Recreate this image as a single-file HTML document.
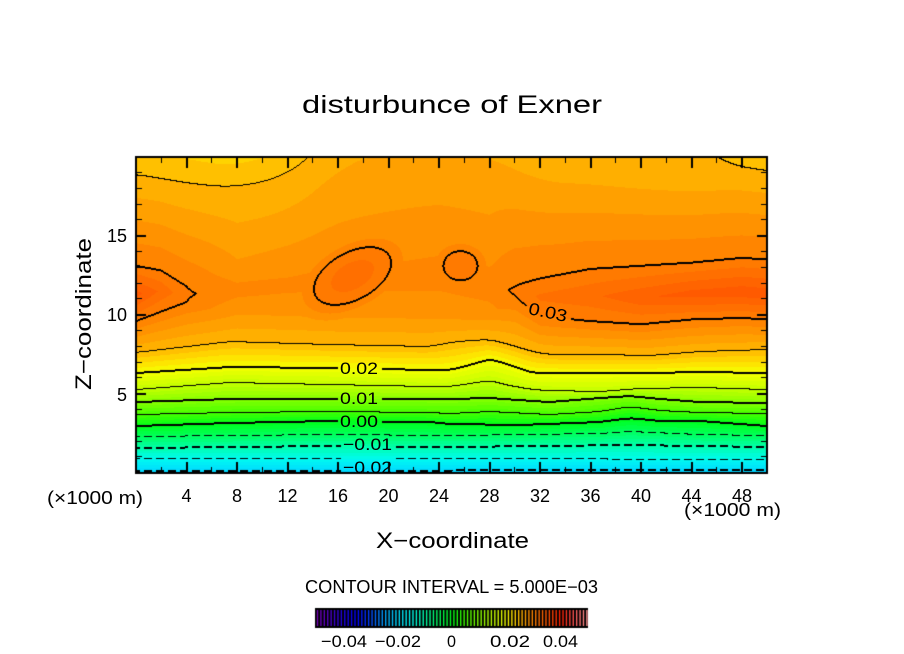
<!DOCTYPE html>
<html><head><meta charset="utf-8">
<style>
html,body{margin:0;padding:0;background:#fff;}
#wrap{position:relative;width:904px;height:654px;overflow:hidden;background:#fff;}
canvas,svg{position:absolute;left:0;top:0;}
</style></head><body>
<div id="wrap">
<canvas id="c" width="904" height="654"></canvas>
<svg width="904" height="654" font-family="'Liberation Sans', sans-serif" fill="#000">
<text x="302" y="113" font-size="25" textLength="300" lengthAdjust="spacingAndGlyphs">disturbunce of Exner</text>
<text x="376" y="548" font-size="22" textLength="153" lengthAdjust="spacingAndGlyphs">X−coordinate</text>
<text transform="translate(91,390) rotate(-90)" font-size="22" textLength="152" lengthAdjust="spacingAndGlyphs">Z−coordinate</text>
<g font-size="18" text-anchor="end">
<text x="127" y="242">15</text>
<text x="127" y="321">10</text>
<text x="127" y="401">5</text>
</g>
<g font-size="18" text-anchor="middle">
<text x="186.5" y="502">4</text>
<text x="237" y="502">8</text>
<text x="287.5" y="502">12</text>
<text x="338" y="502">16</text>
<text x="388.5" y="502">20</text>
<text x="439" y="502">24</text>
<text x="489.5" y="502">28</text>
<text x="540" y="502">32</text>
<text x="590.5" y="502">36</text>
<text x="641" y="502">40</text>
<text x="691.5" y="502">44</text>
<text x="742" y="502">48</text>
</g>
<text x="47" y="504" font-size="18" textLength="96" lengthAdjust="spacingAndGlyphs">(×1000 m)</text>
<text x="684" y="516" font-size="18" textLength="97" lengthAdjust="spacingAndGlyphs">(×1000 m)</text>
<text x="305" y="593" font-size="18" textLength="293" lengthAdjust="spacingAndGlyphs">CONTOUR INTERVAL = 5.000E−03</text>
<g font-size="17">
<text x="321" y="647" textLength="46" lengthAdjust="spacingAndGlyphs">−0.04</text>
<text x="375" y="647" textLength="46" lengthAdjust="spacingAndGlyphs">−0.02</text>
<text x="447" y="647" textLength="9" lengthAdjust="spacingAndGlyphs">0</text>
<text x="490" y="647" textLength="40" lengthAdjust="spacingAndGlyphs">0.02</text>
<text x="543" y="647" textLength="35" lengthAdjust="spacingAndGlyphs">0.04</text>
</g>
<g font-size="17">
<text x="340" y="374" textLength="38" lengthAdjust="spacingAndGlyphs">0.02</text>
<text x="340" y="404" textLength="38" lengthAdjust="spacingAndGlyphs">0.01</text>
<text x="340" y="427" textLength="38" lengthAdjust="spacingAndGlyphs">0.00</text>
<text x="343" y="450" textLength="49" lengthAdjust="spacingAndGlyphs">−0.01</text>
<text x="343" y="473" textLength="49" lengthAdjust="spacingAndGlyphs">−0.02</text>
<text transform="translate(548,312) rotate(12)" text-anchor="middle" dy="6" textLength="39" lengthAdjust="spacingAndGlyphs">0.03</text>
</g>
</svg>
</div>
<script>
(function(){
const cv=document.getElementById('c'), ctx=cv.getContext('2d');
const CX=136, CY=157, CW=632, CH=316;
const XL=136, XR=767.3, YT=156.7, YB=472.8;
const SX=(XR-XL)/50, SZ=(YB-YT)/20;

const lower = [
 [-0.025, [[136,482],[767,482]]],
 [-0.02, [[136,471],[767,470]]],
 [-0.015, [[136,459],[450,459],[767,460]]],
 [-0.01, [[136,448],[330,446],[450,447],[630,445],[767,447]]],
 [-0.005, [[136,437],[330,435],[450,436],[600,434],[630,432],[700,435],[767,436]]],
 [0, [[136,426],[230,423],[330,421],[430,422],[450,424],[520,425],[600,422],[630,418],[660,421],[700,421],[767,426]]],
 [0.005, [[136,415],[230,413],[330,412],[430,413],[450,414],[490,412],[550,415],[600,412],[630,407],[660,411],[700,413],[767,414]]],
 [0.01, [[136,402],[230,399],[330,399],[430,399],[450,399],[490,398],[533,401],[550,402],[600,398],[630,396],[660,399],[700,402],[767,403]]],
 [0.015, [[136,390],[230,383],[330,385],[430,387],[450,387],[470,384],[490,381],[510,386],[533,390],[550,391],[600,392],[640,389],[700,388],[767,390]]],
 [0.02, [[136,373],[230,367],[330,368],[430,370],[450,370],[470,365],[490,359],[510,365],[533,373],[550,373],[600,373],[650,373],[700,372],[767,373]]],
 [0.025, [[136,353],[230,342],[330,345],[430,347],[450,343],[470,341],[490,340],[510,345],[533,352],[550,355],[600,355],[650,356],[700,352],[767,350]]]
];
const upper = [
 [0,  9.6,.0300, 11.3,.0343, 13.1,.0300, 18.9,.0250, 20,.0243],
 [2, 10.2,.0300, 11.5,.0322, 12.8,.0300, 18.6,.0250, 20,.0240],
 [4, 10.8,.0300, 11.3,.0302, 11.8,.0300, 18.3,.0250, 20,.0236],
 [8, 10.0,.0275, 11.5,.0292, 13.5,.0275, 18.0,.0250, 20,.0232],
 [12,10.0,.0276, 11.8,.0291, 14.0,.0277, 18.8,.0250, 20,.0242],
 [16,10.0,.0278, 12.2,.0292, 14.5,.0280, 19.5,.0262, 20,.0261],
 [20,10.0,.0278, 12.2,.0292, 14.5,.0282, 19.5,.0265, 20,.0263],
 [24,10.0,.0279, 12.5,.0293, 14.5,.0284, 19.5,.0266, 20,.0264],
 [28,10.0,.0282, 11.8,.0294, 13.5,.0285, 19.5,.0264, 20,.0262],
 [30,11.0,.02985,11.5,.0302, 12.0,.02985,19.5,.0262, 20,.0260],
 [32, 9.9,.0300, 11.1,.0315, 12.3,.0300, 19.3,.0257, 20,.0256],
 [36, 9.6,.0300, 11.2,.0322, 12.9,.0300, 18.9,.0258, 20,.0256],
 [40, 9.4,.0300, 11.1,.0335, 13.1,.0300, 18.8,.0256, 20,.0254],
 [44, 9.7,.0300, 11.3,.0343, 13.3,.0300, 18.8,.0254, 20,.0252],
 [48, 9.8,.0300, 11.4,.0346, 13.6,.0300, 19.4,.0250, 20,.0248],
 [50, 9.7,.0300, 11.3,.0345, 13.5,.0300, 19.0,.0250, 20,.0245]
];
const cm = [[-0.05,120,0,180],[-0.045,80,0,200],[-0.04,30,0,230],[-0.035,0,0,255],[-0.03,0,70,255],[-0.025,0,160,255],[-0.02,0,218,255],[-0.015,0,250,240],[-0.01,0,255,170],[-0.005,0,255,95],[0,0,255,25],[0.005,70,255,0],[0.01,135,255,0],[0.015,195,255,0],[0.02,245,255,0],[0.0225,255,220,0],[0.025,255,182,0],[0.0275,255,152,0],[0.03,255,127,0],[0.0325,255,105,0],[0.035,255,85,0],[0.04,255,30,0],[0.045,255,90,90],[0.05,255,150,150]];
function cmap(v){
 if(v<=cm[0][0]) return cm[0].slice(1);
 for(let k=1;k<cm.length;k++){ if(v<=cm[k][0]){const t=(v-cm[k-1][0])/(cm[k][0]-cm[k-1][0]); return [0,1,2].map(c=>Math.round(cm[k-1][c+1]+t*(cm[k][c+1]-cm[k-1][c+1])));}}
 return cm[cm.length-1].slice(1);
}
function interp(tab,x){
 if(x<=tab[0][0]) return tab[0][1];
 for(let k=1;k<tab.length;k++){ if(x<=tab[k][0]){const t=(x-tab[k-1][0])/(tab[k][0]-tab[k-1][0]); return tab[k-1][1]+t*(tab[k][1]-tab[k-1][1]);}}
 return tab[tab.length-1][1];
}
function smooth(raw,R){
 const n=raw.length, sm=new Float64Array(n);
 for(let i=0;i<n;i++){let s=0,c=0;for(let d=-R;d<=R;d++){const ii=Math.min(n-1,Math.max(0,i+d));s+=raw[ii];c++;}sm[i]=s/c;}
 return sm;
}
const NL=lower.length, LH=[];
for(let k=0;k<NL;k++){
 const raw=new Float64Array(CW);
 for(let i=0;i<CW;i++) raw[i]=interp(lower[k][1],CX+i+0.5);
 LH.push(smooth(raw,8));
}
// upper knots per column
const UKc=[];
for(let m=0;m<10;m++) UKc.push(new Float64Array(CW));
for(let i=0;i<CW;i++){
 const x=(CX+i+0.5-XL)/SX;
 let a=upper[0], b=upper[0], t=0;
 if(x>=upper[upper.length-1][0]){a=b=upper[upper.length-1];}
 else if(x>upper[0][0]){
  for(let k=1;k<upper.length;k++){ if(x<=upper[k][0]){a=upper[k-1];b=upper[k];t=(x-a[0])/(b[0]-a[0]);break;} }
 }
 for(let m=1;m<11;m++) UKc[m-1][i]=a[m]+t*(b[m]-a[m]);
}
for(let m=6;m<10;m++) UKc[m]=smooth(UKc[m],25);
function blob(x,z,cx,cz,a,b,th,pk){
 const c=Math.cos(th),s=Math.sin(th),dx=x-cx,dz=z-cz;
 const u=(dx*c+dz*s)/a,w=(-dx*s+dz*c)/b;
 return pk-(pk-0.03)*(u*u+w*w);
}
const V=new Float64Array(CW*CH);
for(let j=0;j<CH;j++){
 const py=CY+j+0.5, z=(YB-py)/SZ;
 for(let i=0;i<CW;i++){
  let v;
  if(py>=LH[NL-1][i]){
   if(py>LH[0][i]) v=lower[0][0]-(py-LH[0][i])*0.0005;
   else{
    for(let k=0;k<NL-1;k++){
     if(py<=LH[k][i]&&py>=LH[k+1][i]){
      const d=LH[k][i]-LH[k+1][i];
      v=lower[k][0]+(d>0?(LH[k][i]-py)/d:0)*(lower[k+1][0]-lower[k][0]);break;
     }
    }
   }
  } else {
   const x=(CX+i+0.5-XL)/SX;
   const kz=[(YB-LH[NL-1][i])/SZ,UKc[0][i],UKc[2][i],UKc[4][i],UKc[6][i],UKc[8][i]];
   const kv=[0.025,UKc[1][i],UKc[3][i],UKc[5][i],UKc[7][i],UKc[9][i]];
   v=kv[5];
   if(z<=kz[0]) v=0.025;
   else{
    for(let k=1;k<6;k++){ if(z<=kz[k]){const t=(z-kz[k-1])/(kz[k]-kz[k-1]);v=kv[k-1]+t*(kv[k]-kv[k-1]);break;} }
   }
   v=Math.max(v,blob(x,z,17.15,12.45,3.2,1.55,20*Math.PI/180,0.0318));
   v=Math.max(v,blob(x,z,25.7,13.1,1.35,0.92,0,0.0310));
  }
  V[j*CW+i]=v;
 }
}
const img=ctx.createImageData(CW,CH), D=img.data;
const lut={};
for(let p=0;p<CW*CH;p++){
 const q=Math.floor(V[p]/0.00125);
 let c=lut[q]; if(!c){c=cmap((q+0.5)*0.00125);lut[q]=c;}
 D[p*4]=c[0];D[p*4+1]=c[1];D[p*4+2]=c[2];D[p*4+3]=255;
}
// contours
const L=new Int32Array(CW*CH);
for(let p=0;p<CW*CH;p++) L[p]=Math.floor(V[p]/0.005+1e-9);
const boxes=[[338,360,381,377],[338,390,381,408],[338,413,381,431],[341,436,394,454],[341,458,394,476],[526,303,570,324]];
function inBox(px,py){for(const b of boxes){if(px>=b[0]&&px<=b[2]&&py>=b[1]&&py<=b[3])return true;}return false;}
function setBlack(i,j){if(i<0||j<0||i>=CW||j>=CH)return;const p=(j*CW+i)*4;D[p]=0;D[p+1]=0;D[p+2]=0;}
function seg(i,j,i2,j2,lv){
 if(lv<-4||lv>7) return;
 const px=CX+i, py=CY+j;
 if(lv<0 && ((px%12)>=8)) return;
 if(inBox(px,py)) return;
 setBlack(i,j);
 if(lv%2===0) setBlack(i2,j2);
}
for(let j=0;j<CH;j++){
 for(let i=0;i<CW;i++){
  const l=L[j*CW+i];
  if(i+1<CW){const l2=L[j*CW+i+1]; if(l2!==l) seg(i,j,i+1,j,Math.max(l,l2));}
  if(j+1<CH){const l2=L[(j+1)*CW+i]; if(l2!==l) seg(i,j,i,j+1,Math.max(l,l2));}
 }
}
ctx.putImageData(img,CX,CY);
// frame
ctx.fillStyle='#000';
ctx.fillRect(135,156,633,2);
ctx.fillRect(135,472,633,2);
ctx.fillRect(135,156,2,318);
ctx.fillRect(766,156,2,318);
// x ticks
for(let k=1;k<25;k++){
 const x=XL+k*2*SX, major=(k%2===0);
 const len=major?10:5, w=major?2:1;
 const xx=Math.round(x-w/2);
 ctx.fillRect(xx,158,w,len);
 ctx.fillRect(xx,472-len,w,len);
}
// y ticks
for(let k=1;k<20;k++){
 const y=YB-k*SZ, major=(k%5===0);
 const len=major?9:5, w=major?2:1;
 const yy=Math.round(y-w/2);
 ctx.fillRect(137,yy,len,w);
 ctx.fillRect(766-len,yy,len,w);
}
// colorbar
ctx.fillStyle='#000';
ctx.fillRect(315,608,273,20);
for(let i=0;i<80;i++){
 const v=-0.05+(i+0.5)*0.00125, c=cmap(v);
 ctx.fillStyle='rgb('+c[0]+','+c[1]+','+c[2]+')';
 ctx.fillRect(316.8+i*3.41,610,1.4,16);
}
})();
</script>
</body></html>
